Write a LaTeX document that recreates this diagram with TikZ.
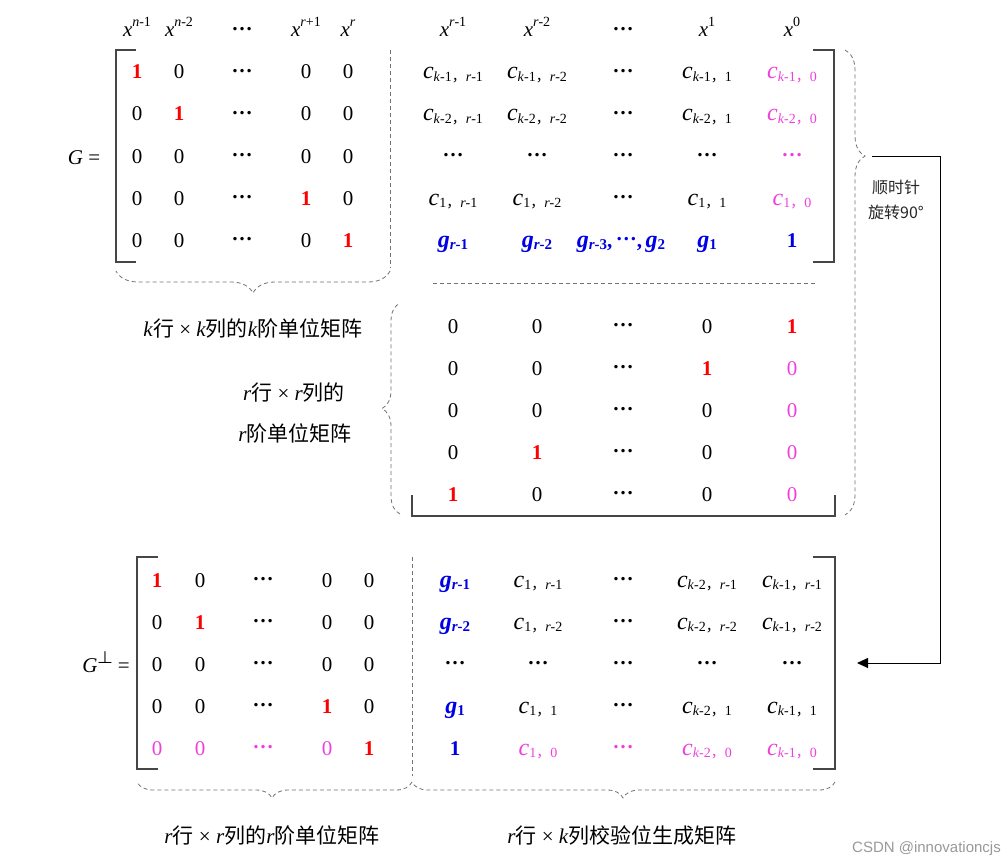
\documentclass[tikz,border=0pt]{standalone}
\usepackage{fontspec}
\setmainfont{Liberation Serif}
\newfontfamily\cjk{Noto Sans CJK SC}
\newfontfamily\wmfont{Liberation Sans}
\usetikzlibrary{arrows.meta,decorations.pathreplacing}
\definecolor{myred}{RGB}{255,0,0}
\definecolor{mymag}{RGB}{240,64,220}
\definecolor{myblue}{RGB}{0,0,230}
\definecolor{dashgray}{RGB}{115,115,115}
\definecolor{brkcol}{RGB}{70,70,70}
\newcommand\myone{\textcolor{myred}{\textbf{1}}}
\newcommand\myzero{\textcolor{mymag}{0}}
\newcommand\mydots{\raisebox{6.5pt}{\textbf{…}}}
\newcommand\mysub{\fontsize{14}{14}\selectfont}
\newcommand\mycel[2]{{\fontsize{24}{24}\selectfont\textit{c}}\raisebox{-0.25ex}{\mysub #1{\cjk ，}#2}}
\newcommand\myg[1]{\textcolor{myblue}{{\fontsize{24}{24}\selectfont\textbf{\textit{g}}}\raisebox{-0.3ex}{\fontsize{15}{15}\selectfont\textbf{#1}}}}
\newcommand\myx[1]{\textit{x}\raisebox{10pt}{\mysub #1}}
\newcommand\fiverow[7]{%
  \node[cell] (#1-1) at (\cxa,#2) {#3};
  \node[cell] (#1-2) at (\cxb,#2) {#4};
  \node[cell] (#1-3) at (\cxc,#2) {#5};
  \node[cell] (#1-4) at (\cxd,#2) {#6};
  \node[cell] (#1-5) at (\cxe,#2) {#7};}
\begin{document}
\begin{tikzpicture}[x=1pt,y=-1pt,
  cell/.style={anchor=base,inner sep=0pt,font=\fontsize{21}{24}\selectfont},
  lab/.style={anchor=base,inner sep=0pt,font=\fontsize{21}{24}\selectfont},
  brk/.style={draw=brkcol,line width=1.2pt},
  dsh/.style={draw=dashgray,line width=0.8pt,dash pattern=on 4pt off 3pt},
  brc/.style={dsh,decorate,decoration={brace,amplitude=#1}},
  arr/.style={draw=black,line width=0.9pt,-{Triangle[length=11pt,width=10pt]}}
]
\useasboundingbox[fill=white] (0,0) rectangle (1008,864);

% ---------- headers ----------
\node[cell] (h1) at (137,37) {\myx{\textit{n}-1}};
\node[cell] (h2) at (179,37) {\myx{\textit{n}-2}};
\node[cell] (h3) at (242,37) {\mydots};
\node[cell] (h4) at (306,37) {\myx{\textit{r}+1}};
\node[cell] (h5) at (348,37) {\myx{\textit{r}}};
\node[cell] (h6) at (453,37) {\myx{\textit{r}-1}};
\node[cell] (h7) at (537,37) {\myx{\textit{r}-2}};
\node[cell] (h8) at (623,37) {\mydots};
\node[cell] (h9) at (707,37) {\myx{1}};
\node[cell] (h10) at (792,37) {\myx{0}};

\node[lab] (G) at (84,164) {\textit{G} =};

% ---------- top-left identity ----------
\def\cxa{137}\def\cxb{179}\def\cxc{242}\def\cxd{306}\def\cxe{348}
\fiverow{ta}{79}{\myone}{0}{\mydots}{0}{0}
\fiverow{tb}{121}{0}{\myone}{\mydots}{0}{0}
\fiverow{tc}{163}{0}{0}{\mydots}{0}{0}
\fiverow{td}{205}{0}{0}{\mydots}{\myone}{0}
\fiverow{te}{247}{0}{0}{\mydots}{0}{\myone}

% ---------- top-right block ----------
\def\cxa{453}\def\cxb{537}\def\cxc{623}\def\cxd{707}\def\cxe{792}
\fiverow{ua}{79}{\mycel{\textit{k}-1}{\textit{r}-1}}{\mycel{\textit{k}-1}{\textit{r}-2}}{\mydots}{\mycel{\textit{k}-1}{1}}{\textcolor{mymag}{\mycel{\textit{k}-1}{0}}}
\fiverow{ub}{121}{\mycel{\textit{k}-2}{\textit{r}-1}}{\mycel{\textit{k}-2}{\textit{r}-2}}{\mydots}{\mycel{\textit{k}-2}{1}}{\textcolor{mymag}{\mycel{\textit{k}-2}{0}}}
\fiverow{uc}{163}{\mydots}{\mydots}{\mydots}{\mydots}{\textcolor{mymag}{\mydots}}
\fiverow{ud}{205}{\mycel{1}{\textit{r}-1}}{\mycel{1}{\textit{r}-2}}{\mydots}{\mycel{1}{1}}{\textcolor{mymag}{\mycel{1}{0}}}
\node[cell] (ue-1) at (453,247) {\myg{\textit{r}-1}};
\node[cell] (ue-2) at (537,247) {\myg{\textit{r}-2}};
\node[cell] (ue-3) at (621,247) {\myg{\textit{r}-3}\textcolor{myblue}{\textbf{,\,}\mydots\textbf{,\,}}\myg{2}};
\node[cell] (ue-4) at (707,247) {\myg{1}};
\node[cell] (ue-5) at (792,247) {\textcolor{myblue}{\textbf{1}}};

% ---------- middle r x r block ----------
\fiverow{ma}{333}{0}{0}{\mydots}{0}{\myone}
\fiverow{mb}{375}{0}{0}{\mydots}{\myone}{\myzero}
\fiverow{mc}{417}{0}{0}{\mydots}{0}{\myzero}
\fiverow{md}{459}{0}{\myone}{\mydots}{0}{\myzero}
\fiverow{me}{501}{\myone}{0}{\mydots}{0}{\myzero}

% ---------- bottom-left identity ----------
\node[lab] (Gp) at (106,672) {\textit{G}\raisebox{9pt}{\fontsize{19}{19}\selectfont\boldmath$\perp$}\hspace{5pt}=};
\def\cxa{157}\def\cxb{200}\def\cxc{263}\def\cxd{327}\def\cxe{369}
\fiverow{ba}{587}{\myone}{0}{\mydots}{0}{0}
\fiverow{bb}{629}{0}{\myone}{\mydots}{0}{0}
\fiverow{bc}{671}{0}{0}{\mydots}{0}{0}
\fiverow{bd}{713}{0}{0}{\mydots}{\myone}{0}
\fiverow{be}{755}{\myzero}{\myzero}{\textcolor{mymag}{\mydots}}{\myzero}{\myone}

% ---------- bottom-right block ----------
\def\cxa{455}\def\cxb{538}\def\cxc{623}\def\cxd{707}\def\cxe{792}
\fiverow{ca}{587}{\myg{\textit{r}-1}}{\mycel{1}{\textit{r}-1}}{\mydots}{\mycel{\textit{k}-2}{\textit{r}-1}}{\mycel{\textit{k}-1}{\textit{r}-1}}
\fiverow{cb}{629}{\myg{\textit{r}-2}}{\mycel{1}{\textit{r}-2}}{\mydots}{\mycel{\textit{k}-2}{\textit{r}-2}}{\mycel{\textit{k}-1}{\textit{r}-2}}
\fiverow{cc}{671}{\mydots}{\mydots}{\mydots}{\mydots}{\mydots}
\fiverow{cd}{713}{\myg{1}}{\mycel{1}{1}}{\mydots}{\mycel{\textit{k}-2}{1}}{\mycel{\textit{k}-1}{1}}
\fiverow{ce}{755}{\textcolor{myblue}{\textbf{1}}}{\textcolor{mymag}{\mycel{1}{0}}}{\textcolor{mymag}{\mydots}}{\textcolor{mymag}{\mycel{\textit{k}-2}{0}}}{\textcolor{mymag}{\mycel{\textit{k}-1}{0}}}

% ---------- brackets ----------
\draw[brk] (136,50) -- (116,50) -- (116,262) -- (136,262);
\draw[brk] (813,50) -- (834,50) -- (834,262) -- (813,262);
\draw[brk] (412,495) -- (412,516) -- (835,516) -- (835,495);
\draw[brk] (158,557) -- (137,557) -- (137,769) -- (158,769);
\draw[brk] (813,557) -- (835,557) -- (835,769) -- (813,769);

% ---------- dashed separators and braces ----------
\draw[dsh] (390,50) -- (390,268);
\draw[dsh] (433,283) -- (815,283);
\draw[dsh] (412,557) -- (412,776);
\draw[brc=22pt] (390,271) -- (116,271);
\draw[brc=20pt,decoration={aspect=0.228}] (845,50) -- (845,515);
\draw[brc=18pt] (400,514) -- (400,303);
\draw[brc=16pt,decoration={aspect=0.509}] (412,782) -- (137,782);
\draw[brc=16pt,decoration={aspect=0.501}] (835,782) -- (412,782);

% ---------- labels ----------
\node[lab] (l1) at (253,336) {\textit{k}{\cjk 行} × \textit{k}{\cjk 列的}\textit{k}{\cjk 阶单位矩阵}};
\node[lab] (l2) at (294,400) {\textit{r}{\cjk 行} × \textit{r}{\cjk 列的}};
\node[lab] (l3) at (295,441) {\textit{r}{\cjk 阶单位矩阵}};
\node[lab] (l4) at (272,843) {\textit{r}{\cjk 行} × \textit{r}{\cjk 列的}\textit{r}{\cjk 阶单位矩阵}};
\node[lab] (l5) at (622,843) {\textit{r}{\cjk 行} × \textit{k}{\cjk 列校验位生成矩阵}};

% ---------- rotation arrow ----------
\coordinate (tipR) at (872,156);
\coordinate (arrEnd) at (857,663);
\draw[arr] (tipR) -- (940,156) |- (arrEnd);
\node[anchor=base,inner sep=0pt,text=black!85,font=\cjk\fontsize{16}{18}\selectfont] (rot1) at (896,193) {顺时针};
\node[anchor=base,inner sep=0pt,text=black!85,font=\cjk\fontsize{16}{18}\selectfont] (rot2) at (896,218) {旋转90°};

% ---------- watermark ----------
\node[anchor=base east,inner sep=0pt,text=black!40,font=\wmfont\fontsize{15}{16}\selectfont] (wm) at (1001,852) {CSDN @innovationcjs};
\end{tikzpicture}
\end{document}
